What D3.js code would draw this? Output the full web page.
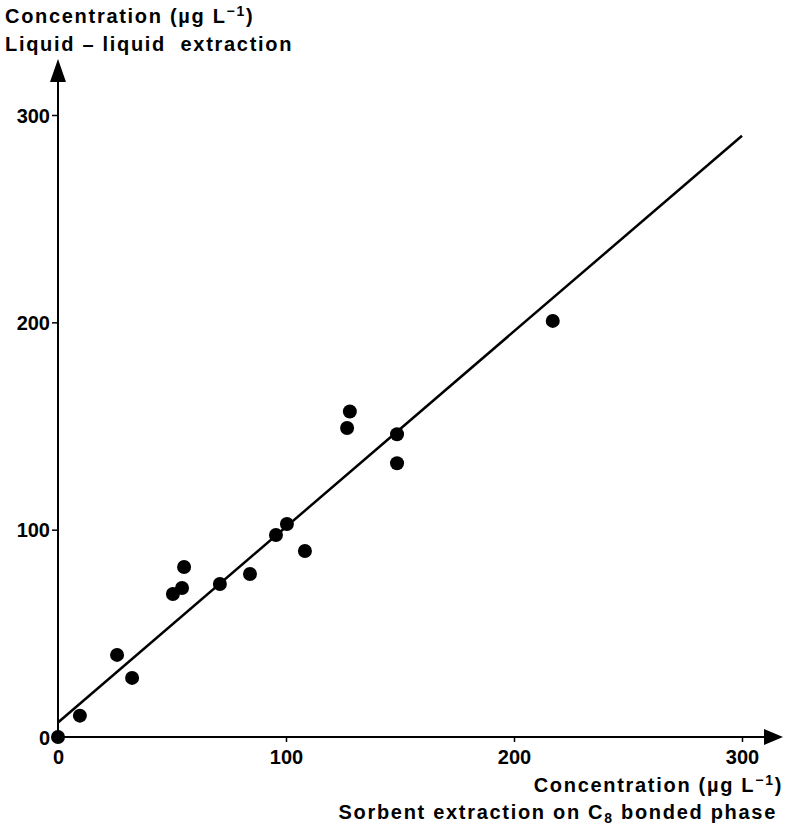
<!DOCTYPE html>
<html lang="en">
<head>
    <meta charset="UTF-8">
    <title>Liquid-liquid vs sorbent extraction</title>
    <script src="https://d3js.org/d3.v7.min.js"></script>
    <style>
        body { margin: 0; background: #fff; }
        text { font-family: "Liberation Sans", Arial, sans-serif; font-weight: bold; fill: #000; }
        .tick text { font-size: 20px; }
        .lbl { font-size: 20px; letter-spacing: 1.7px; }
    </style>
</head>
<body>
    <script>
        // sorbent extraction (x) vs liquid-liquid extraction (y), µg/L
        const sorbent = [0, 9.6, 25.9, 32.5, 50.4, 54.4, 55.3, 71, 84.2, 95.6, 100.4, 108.3, 126.8, 128, 148.7, 148.7, 217]
        const liquid = [0, 10.3, 39.6, 28.5, 69, 71.9, 82, 73.8, 78.6, 97.4, 102.7, 89.7, 149, 157, 146, 132, 200.7]
        const fitX = [0, 300]
        const fitY = [7, 290]
        const ticks = [0, 100, 200, 300]

        const W = 788, H = 827

        const x = d3.scaleLinear().domain([0, 300]).range([58, 742])
        const y = d3.scaleLinear().domain([0, 300]).range([737, 115])

        const svg = d3.select("body").append("svg")
            .attr("width", W)
            .attr("height", H)

        // x axis
        const gx = svg.append("g")
            .attr("transform", "translate(0," + y(0) + ")")
            .call(d3.axisBottom(x).tickValues(ticks).tickSize(5).tickSizeOuter(0).tickPadding(8))
        gx.select(".domain").remove()
        gx.selectAll(".tick line").attr("stroke-width", 1.5)

        // y axis
        const gy = svg.append("g")
            .attr("transform", "translate(" + x(0) + ",0)")
            .call(d3.axisLeft(y).tickValues(ticks).tickSize(6).tickSizeOuter(0).tickPadding(2))
        gy.select(".domain").remove()
        gy.selectAll(".tick line").attr("stroke-width", 1.5)
        gy.selectAll(".tick text").attr("dy", "0.36em")

        // axis lines with arrows
        svg.append("line")
            .attr("x1", x(0)).attr("y1", y(0))
            .attr("x2", 766).attr("y2", y(0))
            .attr("stroke", "#000").attr("stroke-width", 2)
        svg.append("path")
            .attr("d", `M764,${y(0) - 8}L783,${y(0)}L764,${y(0) + 8}Z`)
            .attr("fill", "#000")
        svg.append("line")
            .attr("x1", x(0)).attr("y1", y(0))
            .attr("x2", x(0)).attr("y2", 80)
            .attr("stroke", "#000").attr("stroke-width", 2)
        svg.append("path")
            .attr("d", `M${x(0) - 8},82L${x(0)},59L${x(0) + 8},82Z`)
            .attr("fill", "#000")

        // regression line
        svg.append("line")
            .attr("x1", x(fitX[0])).attr("y1", y(fitY[0]))
            .attr("x2", x(fitX[1])).attr("y2", y(fitY[1]))
            .attr("stroke", "#000").attr("stroke-width", 2.5)

        // points
        svg.append("g")
            .selectAll("circle")
            .data(sorbent.map((v, i) => [v, liquid[i]]))
            .enter().append("circle")
            .attr("cx", d => x(d[0]))
            .attr("cy", d => y(d[1]))
            .attr("r", 7)
            .attr("fill", "#000")

        // y axis title
        const yt = svg.append("text").attr("class", "lbl").attr("x", 5).attr("y", 23)
        yt.append("tspan").text("Concentration (µg L")
        yt.append("tspan").attr("dy", -7).style("font-size", "14px").text("−1")
        yt.append("tspan").attr("dy", 7).text(")")
        svg.append("text").attr("class", "lbl").attr("x", 5).attr("y", 51)
            .attr("xml:space", "preserve")
            .style("white-space", "pre")
            .text("Liquid – liquid  extraction")

        // x axis title
        const xt = svg.append("text").attr("class", "lbl").attr("x", 783).attr("y", 792)
            .attr("text-anchor", "end")
        xt.append("tspan").text("Concentration (µg L")
        xt.append("tspan").attr("dy", -7).style("font-size", "14px").text("−1")
        xt.append("tspan").attr("dy", 7).text(")")
        const xt2 = svg.append("text").attr("class", "lbl").attr("x", 777).attr("y", 819)
            .attr("text-anchor", "end")
        xt2.append("tspan").text("Sorbent extraction on C")
        xt2.append("tspan").attr("dy", 4).style("font-size", "14px").text("8")
        xt2.append("tspan").attr("dy", -4).text(" bonded phase")
    </script>
</body>
</html>
